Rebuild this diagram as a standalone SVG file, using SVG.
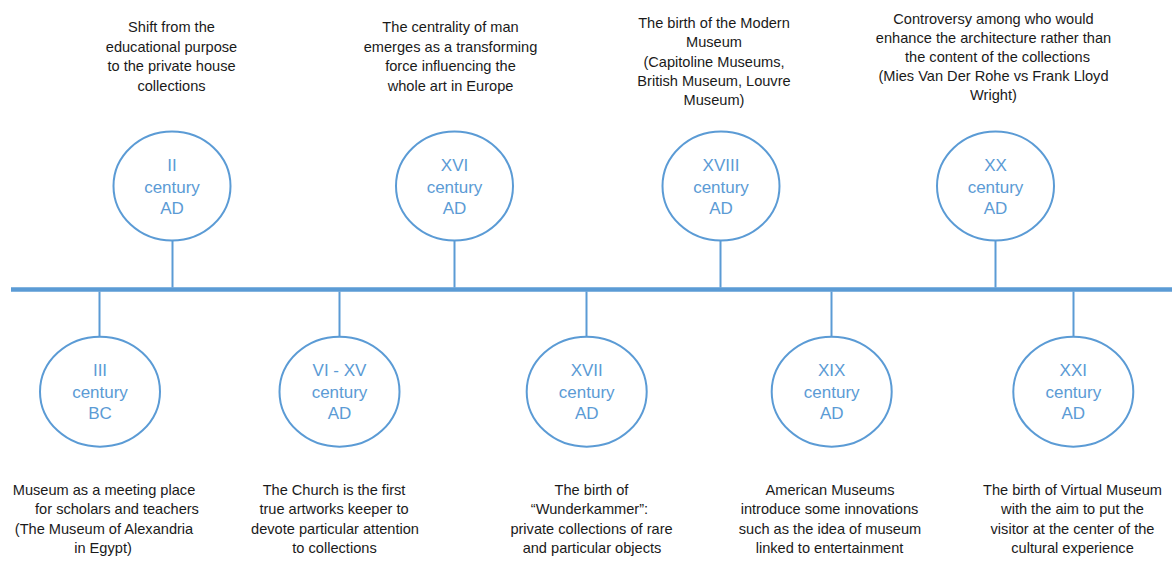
<svg xmlns="http://www.w3.org/2000/svg" width="1172" height="561" viewBox="0 0 1172 561">
  <style>
    .era { fill: #ffffff; stroke: #5b9bd5; stroke-width: 2; }
    .era-label { font-family: "Liberation Sans", Arial, sans-serif; font-size: 17px; fill: #5b9bd5; text-anchor: middle; }
    .desc { font-family: "Liberation Sans", Arial, sans-serif; font-size: 14.6px; fill: #1a1a1a; text-anchor: middle; }
    .stem { stroke: #5b9bd5; stroke-width: 2; }
    .axis { stroke: #5b9bd5; stroke-width: 4.5; }
  </style>

  <!-- timeline axis and stems -->
  <g id="connectors">
    <line class="axis" x1="11" y1="289.5" x2="1172" y2="289.5"/>
    <line class="stem" x1="172.5" y1="241" x2="172.5" y2="287.5"/>
    <line class="stem" x1="454.5" y1="241" x2="454.5" y2="287.5"/>
    <line class="stem" x1="720.5" y1="241" x2="720.5" y2="287.5"/>
    <line class="stem" x1="995.5" y1="241" x2="995.5" y2="287.5"/>
    <line class="stem" x1="99.5" y1="291.5" x2="99.5" y2="337"/>
    <line class="stem" x1="339.5" y1="291.5" x2="339.5" y2="337"/>
    <line class="stem" x1="586.5" y1="291.5" x2="586.5" y2="337"/>
    <line class="stem" x1="831.5" y1="291.5" x2="831.5" y2="337"/>
    <line class="stem" x1="1073.5" y1="291.5" x2="1073.5" y2="337"/>
  </g>

  <!-- upper row -->
  <g id="node-ii-ad">
    <ellipse class="era" cx="172" cy="186" rx="58.5" ry="54.5"/>
    <text class="era-label" x="172" y="170.5">II</text>
    <text class="era-label" x="172" y="192.5">century</text>
    <text class="era-label" x="172" y="214">AD</text>
    <text class="desc" x="171.5" y="32">Shift from the</text>
    <text class="desc" x="171.5" y="51.5">educational purpose</text>
    <text class="desc" x="171.5" y="71">to the private house</text>
    <text class="desc" x="171.5" y="90.5">collections</text>
  </g>

  <g id="node-xvi-ad">
    <ellipse class="era" cx="454.5" cy="186" rx="58.5" ry="54.5"/>
    <text class="era-label" x="454.5" y="170.5">XVI</text>
    <text class="era-label" x="454.5" y="192.5">century</text>
    <text class="era-label" x="454.5" y="214">AD</text>
    <text class="desc" x="450.5" y="32">The centrality of man</text>
    <text class="desc" x="450.5" y="51.5">emerges as a transforming</text>
    <text class="desc" x="450.5" y="71">force influencing the</text>
    <text class="desc" x="450.5" y="90.5">whole art in Europe</text>
  </g>

  <g id="node-xviii-ad">
    <ellipse class="era" cx="721" cy="186" rx="58.5" ry="54.5"/>
    <text class="era-label" x="721" y="170.5">XVIII</text>
    <text class="era-label" x="721" y="192.5">century</text>
    <text class="era-label" x="721" y="214">AD</text>
    <text class="desc" x="714" y="28">The birth of the Modern</text>
    <text class="desc" x="714" y="47.3">Museum</text>
    <text class="desc" x="714" y="66.5">(Capitoline Museums,</text>
    <text class="desc" x="714" y="85.8">British Museum, Louvre</text>
    <text class="desc" x="714" y="105">Museum)</text>
  </g>

  <g id="node-xx-ad">
    <ellipse class="era" cx="995.5" cy="186" rx="58.5" ry="54.5"/>
    <text class="era-label" x="995.5" y="170.5">XX</text>
    <text class="era-label" x="995.5" y="192.5">century</text>
    <text class="era-label" x="995.5" y="214">AD</text>
    <text class="desc" x="993.5" y="23.5">Controversy among who would</text>
    <text class="desc" x="993.5" y="42.7">enhance the architecture rather than</text>
    <text class="desc" x="997.5" y="61.9">the content of the collections</text>
    <text class="desc" x="993.5" y="81.1">(Mies Van Der Rohe vs Frank Lloyd</text>
    <text class="desc" x="993.5" y="100.3">Wright)</text>
  </g>

  <!-- lower row -->
  <g id="node-iii-bc">
    <ellipse class="era" cx="100" cy="391.7" rx="60" ry="55"/>
    <text class="era-label" x="100" y="376">III</text>
    <text class="era-label" x="100" y="397.8">century</text>
    <text class="era-label" x="100" y="419.3">BC</text>
    <text class="desc" x="104" y="495">Museum as a meeting place</text>
    <text class="desc" x="117" y="514">for scholars and teachers</text>
    <text class="desc" x="104" y="533.5">(The Museum of Alexandria</text>
    <text class="desc" x="103" y="552.5">in Egypt)</text>
  </g>

  <g id="node-vi-xv-ad">
    <ellipse class="era" cx="339.5" cy="391.7" rx="60" ry="55"/>
    <text class="era-label" x="339.5" y="376">VI - XV</text>
    <text class="era-label" x="339.5" y="397.8">century</text>
    <text class="era-label" x="339.5" y="419.3">AD</text>
    <text class="desc" x="334" y="495">The Church is the first</text>
    <text class="desc" x="334" y="514">true artworks keeper to</text>
    <text class="desc" x="335" y="533.5">devote particular attention</text>
    <text class="desc" x="334.5" y="552.5">to collections</text>
  </g>

  <g id="node-xvii-ad">
    <ellipse class="era" cx="586.7" cy="391.7" rx="60" ry="55"/>
    <text class="era-label" x="586.7" y="376">XVII</text>
    <text class="era-label" x="586.7" y="397.8">century</text>
    <text class="era-label" x="586.7" y="419.3">AD</text>
    <text class="desc" x="591.5" y="495">The birth of</text>
    <text class="desc" x="589.5" y="514">“Wunderkammer”:</text>
    <text class="desc" x="591.5" y="533.5">private collections of rare</text>
    <text class="desc" x="592" y="552.5">and particular objects</text>
  </g>

  <g id="node-xix-ad">
    <ellipse class="era" cx="831.7" cy="391.7" rx="60" ry="55"/>
    <text class="era-label" x="831.7" y="376">XIX</text>
    <text class="era-label" x="831.7" y="397.8">century</text>
    <text class="era-label" x="831.7" y="419.3">AD</text>
    <text class="desc" x="830" y="495">American Museums</text>
    <text class="desc" x="829.5" y="514">introduce some innovations</text>
    <text class="desc" x="830" y="533.5">such as the idea of museum</text>
    <text class="desc" x="829.5" y="552.5">linked to entertainment</text>
  </g>

  <g id="node-xxi-ad">
    <ellipse class="era" cx="1073.3" cy="391.7" rx="60" ry="55"/>
    <text class="era-label" x="1073.3" y="376">XXI</text>
    <text class="era-label" x="1073.3" y="397.8">century</text>
    <text class="era-label" x="1073.3" y="419.3">AD</text>
    <text class="desc" x="1072.5" y="495">The birth of Virtual Museum</text>
    <text class="desc" x="1072.5" y="514">with the aim to put the</text>
    <text class="desc" x="1072.5" y="533.5">visitor at the center of the</text>
    <text class="desc" x="1072.5" y="552.5">cultural experience</text>
  </g>
</svg>
